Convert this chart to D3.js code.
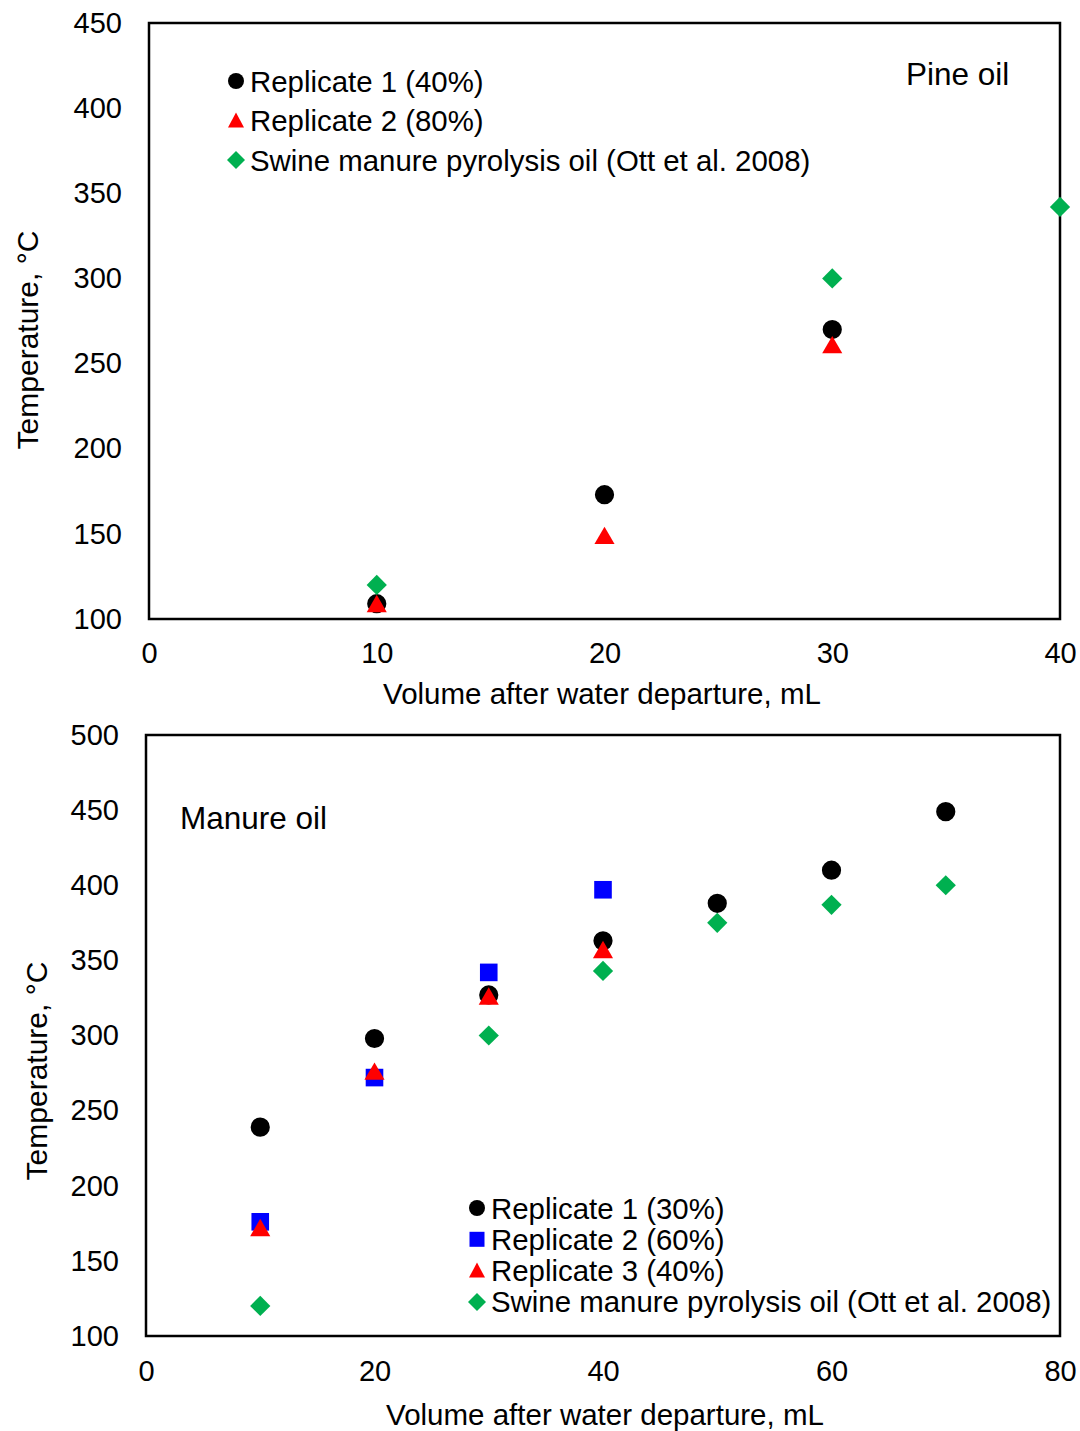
<!DOCTYPE html>
<html>
<head>
<meta charset="utf-8">
<script src="https://cdn.jsdelivr.net/npm/d3@7"></script>
<style>
  body { margin: 0; background: #fff; }
  svg { font-family: "Liberation Sans", Arial, sans-serif; }
</style>
</head>
<body>
<div id="SVG_CONTAINER"></div>
<script>
// ---- data: pine oil (top panel)
const pineRep1X = [10, 20, 30];
const pineRep1Y = [109, 173, 270];
const pineRep2X = [10, 20, 30];
const pineRep2Y = [108, 148, 260];
const pineOttX = [10, 30, 40];
const pineOttY = [120, 300, 342];

// ---- data: manure oil (bottom panel)
const manRep1X = [10, 20, 30, 40, 50, 60, 70];
const manRep1Y = [239, 298, 327, 363, 388, 410, 449];
const manRep2X = [10, 20, 30, 40];
const manRep2Y = [176, 272, 342, 397];
const manRep3X = [10, 20, 30, 40];
const manRep3Y = [171, 275, 325, 356];
const manOttX = [10, 30, 40, 50, 60, 70];
const manOttY = [120, 300, 343, 375, 387, 400];

const pineXTicks = [0, 10, 20, 30, 40];
const pineYTicks = [100, 150, 200, 250, 300, 350, 400, 450];
const manXTicks = [0, 20, 40, 60, 80];
const manYTicks = [100, 150, 200, 250, 300, 350, 400, 450, 500];

const width = 1080, height = 1431;

const svg = d3.select("#SVG_CONTAINER")
    .append("svg")
    .attr("width", width)
    .attr("height", height);

const zip = (xs, ys) => xs.map((x, i) => ({x: x, y: ys[i]}));

const shapes = {
    circle: d3.symbol().type(d3.symbolCircle).size(290),
    triangle: d3.symbol().type(d3.symbolTriangle).size(175),
    square: d3.symbol().type(d3.symbolSquare).size(310),
    diamond: d3.symbol().type(d3.symbolSquare).size(205)
};

function drawMarker(g, shape, color, cx, cy) {
    let p = g.append("path")
        .attr("d", shapes[shape]())
        .attr("fill", color);
    if (shape === "diamond") p.attr("transform", "translate(" + cx + "," + cy + ") rotate(45)");
    else if (shape === "triangle") p.attr("transform", "translate(" + cx + "," + (cy + 1) + ")");
    else p.attr("transform", "translate(" + cx + "," + cy + ")");
}

function panel(opt) {
    const x = d3.scaleLinear().domain(opt.xDomain).range([opt.left, opt.right]);
    const y = d3.scaleLinear().domain(opt.yDomain).range([opt.bottom, opt.top]);
    const g = svg.append("g");

    // tick labels only, the frame is a plain box
    g.append("g")
        .attr("transform", "translate(0," + opt.bottom + ")")
        .call(d3.axisBottom(x).tickValues(opt.xTicks).tickSize(0).tickPadding(opt.xPad))
        .call(a => a.select(".domain").remove())
        .selectAll("text")
        .attr("font-size", "29px")
        .attr("font-family", "Liberation Sans, Arial, sans-serif")
        .attr("fill", "#000");

    g.append("g")
        .attr("transform", "translate(" + opt.left + ",0)")
        .call(d3.axisLeft(y).tickValues(opt.yTicks).tickSize(0).tickPadding(opt.yPad))
        .call(a => a.select(".domain").remove())
        .selectAll("text")
        .attr("font-size", "29px")
        .attr("font-family", "Liberation Sans, Arial, sans-serif")
        .attr("fill", "#000");

    // frame
    g.append("rect")
        .attr("x", opt.left).attr("y", opt.top)
        .attr("width", opt.right - opt.left)
        .attr("height", opt.bottom - opt.top)
        .attr("fill", "none")
        .attr("stroke", "#000")
        .attr("stroke-width", 2.5);

    // axis titles
    g.append("text")
        .attr("x", opt.xTitleX)
        .attr("y", opt.xTitleY)
        .attr("text-anchor", "middle")
        .attr("font-size", "29.5px")
        .text("Volume after water departure, mL");

    g.append("text")
        .attr("transform", "translate(" + opt.yTitleX + "," + opt.yTitleY + ") rotate(-90)")
        .attr("text-anchor", "middle")
        .attr("font-size", "30px")
        .text("Temperature, \u00B0C");

    // panel label
    g.append("text")
        .attr("x", opt.labelX).attr("y", opt.labelY)
        .attr("font-size", "31.5px")
        .text(opt.label);

    // series
    opt.series.forEach(s => {
        zip(s.xs, s.ys).forEach(d => drawMarker(g, s.shape, s.color, x(d.x), y(d.y)));
    });

    // legend
    opt.series.forEach((s, i) => {
        const ly = opt.legendY + i * opt.legendStep;
        if (s.shape === "circle") {
            g.append("circle").attr("cx", opt.legendX).attr("cy", ly).attr("r", 8).attr("fill", s.color);
        } else if (s.shape === "square") {
            g.append("rect").attr("x", opt.legendX - 7.5).attr("y", ly - 7.5).attr("width", 15).attr("height", 15).attr("fill", s.color);
        } else if (s.shape === "triangle") {
            g.append("path").attr("d", "M" + opt.legendX + "," + (ly - 8) + "L" + (opt.legendX + 8) + "," + (ly + 7) + "L" + (opt.legendX - 8) + "," + (ly + 7) + "Z").attr("fill", s.color);
        } else {
            g.append("path").attr("d", "M" + opt.legendX + "," + (ly - 9) + "L" + (opt.legendX + 9) + "," + ly + "L" + opt.legendX + "," + (ly + 9) + "L" + (opt.legendX - 9) + "," + ly + "Z").attr("fill", s.color);
        }
        g.append("text")
            .attr("x", opt.legendX + 14)
            .attr("y", ly + 10.5)
            .attr("font-size", "29.4px")
            .text(s.name);
    });
}

panel({
    left: 149, right: 1060, top: 23, bottom: 619,
    xDomain: [0, 40], yDomain: [100, 450],
    xTicks: pineXTicks, yTicks: pineYTicks, xPad: 23, yPad: 27,
    xTitleX: 602, xTitleY: 704,
    yTitleX: 38, yTitleY: 340,
    label: "Pine oil", labelX: 906, labelY: 85,
    legendX: 236, legendY: 81, legendStep: 39.5,
    series: [
        {name: "Replicate 1 (40%)", shape: "circle", color: "#000", xs: pineRep1X, ys: pineRep1Y},
        {name: "Replicate 2 (80%)", shape: "triangle", color: "#ff0000", xs: pineRep2X, ys: pineRep2Y},
        {name: "Swine manure pyrolysis oil (Ott et al. 2008)", shape: "diamond", color: "#00b050", xs: pineOttX, ys: pineOttY}
    ]
});

panel({
    left: 146, right: 1060, top: 735, bottom: 1336,
    xDomain: [0, 80], yDomain: [100, 500],
    xTicks: manXTicks, yTicks: manYTicks, xPad: 24, yPad: 27,
    xTitleX: 605, xTitleY: 1425,
    yTitleX: 47, yTitleY: 1071,
    label: "Manure oil", labelX: 180, labelY: 829,
    legendX: 477, legendY: 1208, legendStep: 31.3,
    series: [
        {name: "Replicate 1 (30%)", shape: "circle", color: "#000", xs: manRep1X, ys: manRep1Y},
        {name: "Replicate 2 (60%)", shape: "square", color: "#0000ff", xs: manRep2X, ys: manRep2Y},
        {name: "Replicate 3 (40%)", shape: "triangle", color: "#ff0000", xs: manRep3X, ys: manRep3Y},
        {name: "Swine manure pyrolysis oil (Ott et al. 2008)", shape: "diamond", color: "#00b050", xs: manOttX, ys: manOttY}
    ]
});
</script>
</body>
</html>
